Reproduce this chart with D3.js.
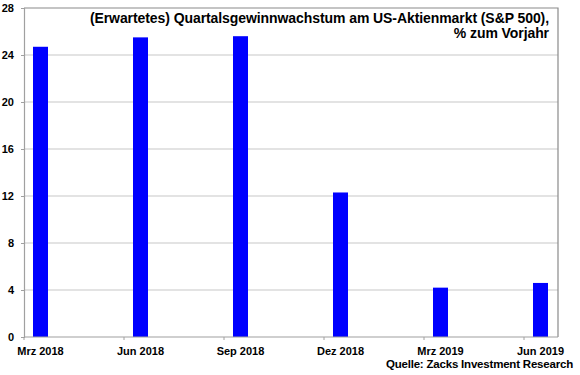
<!DOCTYPE html>
<html>
<head>
<meta charset="utf-8">
<script src="https://cdn.jsdelivr.net/npm/d3@7"></script>
<style>
    body { margin: 0; background: #fff; }
    text { font-family: Arial, "Liberation Sans", sans-serif; font-weight: bold; fill: #000; }
</style>
</head>
<body>
<div id="chart"></div>
<script>
const categories = ['Mrz 2018', 'Jun 2018', 'Sep 2018', 'Dez 2018', 'Mrz 2019', 'Jun 2019'];
const growth = [24.7, 25.5, 25.6, 12.3, 4.2, 4.6];
const yTicks = [0, 4, 8, 12, 16, 20, 24, 28];
const titleLines = ['(Erwartetes) Quartalsgewinnwachstum am US-Aktienmarkt (S&P 500),', '% zum Vorjahr'];
const source = 'Quelle: Zacks Investment Research';

const width = 580, height = 375;
const margin = { left: 24, top: 8, right: 22, bottom: 38 };
const plotRight = width - margin.right;
const plotBottom = height - margin.bottom;

// each quarter gets a 100px slot starting at the left axis, bar sits a bit right of the tick
const x = d3.scaleBand().domain(categories).range([margin.left, margin.left + 600]);
const y = d3.scaleLinear().domain([0, 28]).range([plotBottom, margin.top]);
const barOffset = 9, barWidth = 15;

const svg = d3.select('#chart').append('svg')
    .attr('width', width)
    .attr('height', height);

// gridlines
svg.append('g')
    .selectAll('line').data(yTicks.filter(d => d > 0 && d < 28))
    .enter().append('line')
    .attr('x1', margin.left).attr('x2', plotRight)
    .attr('y1', d => y(d)).attr('y2', d => y(d))
    .attr('stroke', '#c8c8c8').attr('stroke-width', 1.2);

// frame top and right
svg.append('path')
    .attr('d', `M${margin.left},${y(28)}H${plotRight}V${plotBottom}`)
    .attr('fill', 'none').attr('stroke', '#8a8a8a').attr('stroke-width', 1.2);

// bars
svg.append('g')
    .selectAll('rect').data(growth)
    .enter().append('rect')
    .attr('x', (d, i) => x(categories[i]) + barOffset)
    .attr('width', barWidth)
    .attr('y', d => y(d))
    .attr('height', d => y(0) - y(d))
    .attr('fill', '#0000ff');

// y axis
const yAxis = svg.append('g')
    .attr('transform', `translate(${margin.left},0)`)
    .call(d3.axisLeft(y).tickValues(yTicks).tickSize(3).tickPadding(7));
yAxis.select('.domain').attr('stroke', '#a0a0a0').attr('stroke-width', 1.2);
yAxis.selectAll('.tick line').attr('stroke', '#a0a0a0');
yAxis.selectAll('text').attr('font-size', 11).attr('font-family', null);

// x axis
const xAxis = svg.append('g');
xAxis.append('line')
    .attr('x1', margin.left).attr('x2', plotRight)
    .attr('y1', plotBottom).attr('y2', plotBottom)
    .attr('stroke', '#a0a0a0').attr('stroke-width', 1.2);
xAxis.selectAll('.tk').data(categories)
    .enter().append('line')
    .attr('x1', d => x(d)).attr('x2', d => x(d))
    .attr('y1', plotBottom).attr('y2', plotBottom + 3)
    .attr('stroke', '#a0a0a0');
xAxis.selectAll('text').data(categories)
    .enter().append('text')
    .attr('x', d => x(d) + barOffset + barWidth / 2)
    .attr('y', plotBottom + 18)
    .attr('text-anchor', 'middle')
    .attr('font-size', 11)
    .text(d => d);

// title
svg.append('g')
    .selectAll('text').data(titleLines)
    .enter().append('text')
    .attr('x', 549)
    .attr('y', (d, i) => 23 + i * 14.5)
    .attr('text-anchor', 'end')
    .attr('font-size', 14)
    .attr('letter-spacing', -0.08)
    .text(d => d);

// source
svg.append('text')
    .attr('x', 573).attr('y', 368)
    .attr('text-anchor', 'end')
    .attr('font-size', 11.5)
    .attr('letter-spacing', -0.2)
    .text(source);
</script>
</body>
</html>
